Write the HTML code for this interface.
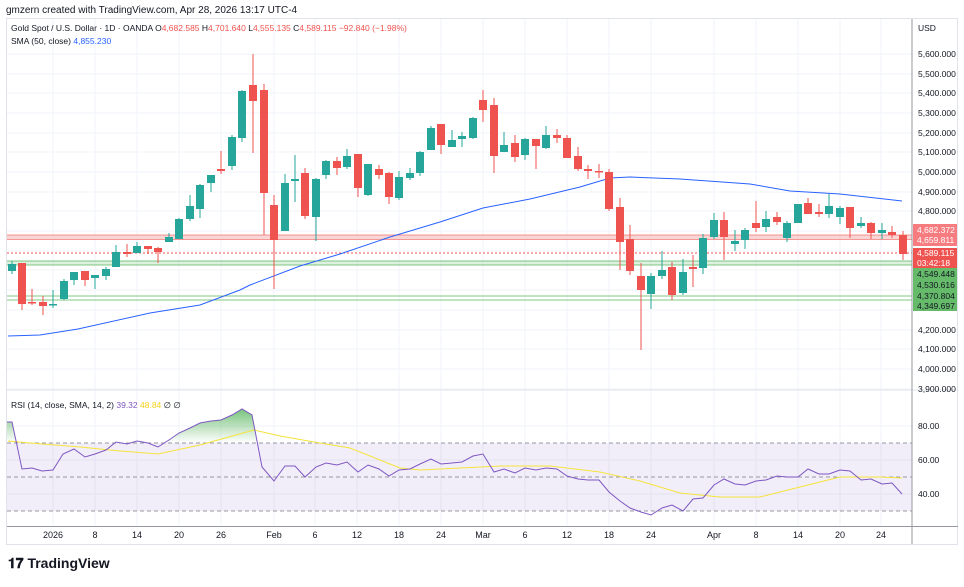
<!DOCTYPE html><html><head><meta charset="utf-8"><style>
body{margin:0;background:#fff;width:964px;height:582px;overflow:hidden;font-family:"Liberation Sans",sans-serif}
svg text{font-family:"Liberation Sans",sans-serif}
</style></head><body>
<svg width="964" height="582" xmlns="http://www.w3.org/2000/svg">
<defs><linearGradient id="g" x1="0" y1="0" x2="0" y2="1"><stop offset="0" stop-color="#4caf50" stop-opacity=".75"/><stop offset="1" stop-color="#4caf50" stop-opacity="0"/></linearGradient></defs>
<text x="6" y="13" font-size="10" fill="#131722">gmzern created with TradingView.com, Apr 28, 2026 13:17 UTC-4</text>
<rect x="6.5" y="18.5" width="951" height="526" fill="none" stroke="#e0e3eb"/>
<g stroke="#f0f3fa" stroke-width="1">
<path d="M53 19V526M95 19V526M137 19V526M179 19V526M221 19V526M274 19V526M315 19V526M357 19V526M399 19V526M441 19V526M483 19V526M525 19V526M567 19V526M609 19V526M651 19V526M714 19V526M756 19V526M798 19V526M840 19V526M881 19V526"/>
<path d="M7 54H912M7 74H912M7 93H912M7 113H912M7 133H912M7 152H912M7 172H912M7 192H912M7 211H912M7 231H912M7 251H912M7 270H912M7 290H912M7 310H912M7 330H912M7 349H912M7 369H912M7 389H912M7 426H912M7 460H912M7 494H912"/>
</g>
<!-- RSI band -->
<rect x="7" y="443" width="905" height="68" fill="#7e57c2" fill-opacity=".1"/>
<g stroke="#9598a1" stroke-dasharray="4,3"><path d="M7 443H912M7 477H912M7 511H912"/></g>
<!-- horizontal levels -->
<rect x="7" y="235" width="905" height="4" fill="#f7c5c5" opacity=".7"/>
<path d="M7 235H912M7 239.5H912" stroke="#ef5350" stroke-opacity=".6"/>
<path d="M7 253H912" stroke="#ef5350" stroke-dasharray="2,2"/>
<rect x="7" y="261" width="905" height="4" fill="#c8e6c9" opacity=".6"/>
<path d="M7 261H912M7 265H912M7 296H912M7 300H912" stroke="#4caf50" stroke-opacity=".7"/>
<!-- SMA -->
<polyline fill="none" stroke="#2962ff" stroke-width="1" points="8,336 40,335 78,329 150,313 200,305 240,290 250,285 300,266 340,254 390,237 440,222 483,208 530,199 580,187 610,178 630,177 680,179 750,184 790,191 840,194 902,201"/>
<g id="c"></g>
<!-- RSI -->
<path fill="url(#g)" d="M7,443 L7,422 L12,422 L16,443 Z M169,443 L169,440 L179,433 L190,428 L200,423 L211,421 L221,420 L232,415 L242,409 L252,415 L257,443 Z"/>
<polyline fill="none" stroke="#f5e33b" stroke-width="1" points="8,441 30,443 80,447 120,451 158,454 200,445 254,430 280,436 320,443 350,448 400,468 420,470 480,467 500,466 550,466 600,472 640,481 680,493 720,497 760,497 800,487 840,477 880,477 902,478"/>
<polyline fill="none" stroke="#7e57c2" stroke-width="1" points="7,422 12,422 22,469 32,468 42,471 53,470 63,454 74,449 85,457 95,454 106,450 116,442 127,444 137,441 148,443 158,447 169,440 179,433 190,428 200,423 211,421 221,420 232,415 242,409 252,415 262,467 274,481 285,466 295,466 305,477 316,467 326,463 337,465 347,462 358,472 368,465 379,469 389,476 399,470 410,469 420,464 431,459 441,464 452,463 462,462 473,456 483,454 494,472 504,469 515,473 525,468 536,470 546,468 557,469 567,476 578,479 588,480 599,480 609,492 620,501 630,508 641,512 651,515 662,508 672,505 683,511 693,499 703,498 714,485 724,479 735,484 745,485 756,481 766,480 777,476 787,477 798,477 808,469 819,474 829,474 840,470 850,471 861,480 871,479 882,484 892,483 902,494"/>
<!-- separators & axes -->
<path d="M7 390H958" stroke="#e0e3eb"/>
<path d="M912 19V544M7 526.5H958" stroke="#9598a1"/>
<g font-size="8.5" fill="#131722">
<text x="918" y="31">USD</text>
<text x="918" y="57">5,600.000</text><text x="918" y="77">5,500.000</text><text x="918" y="96">5,400.000</text><text x="918" y="116">5,300.000</text><text x="918" y="136">5,200.000</text><text x="918" y="155">5,100.000</text><text x="918" y="175">5,000.000</text><text x="918" y="195">4,900.000</text><text x="918" y="214">4,800.000</text><text x="918" y="333">4,200.000</text><text x="918" y="352">4,100.000</text><text x="918" y="372">4,000.000</text><text x="918" y="392">3,900.000</text>
<text x="918" y="429">80.00</text><text x="918" y="463">60.00</text><text x="918" y="497">40.00</text>
</g>
<rect x="913" y="224" width="44" height="22" fill="#f77c80"/>
<text x="917" y="233" font-size="8.5" fill="#fff">4,682.372</text><text x="917" y="243" font-size="8.5" fill="#fff">4,659.811</text>
<rect x="913" y="248" width="44" height="20" fill="#ef5350"/>
<text x="917" y="256" font-size="8.5" fill="#fff">4,589.115</text><text x="917" y="266" font-size="8.5" fill="#fff">03:42:18</text>
<rect x="913" y="268" width="44" height="22" fill="#66bb6a"/>
<text x="917" y="277" font-size="8.5" fill="#131722">4,549.448</text><text x="917" y="288" font-size="8.5" fill="#131722">4,530.616</text>
<rect x="913" y="290" width="44" height="21" fill="#66bb6a"/>
<text x="917" y="299" font-size="8.5" fill="#131722">4,370.804</text><text x="917" y="309" font-size="8.5" fill="#131722">4,349.697</text>
<g font-size="9" fill="#131722" text-anchor="middle">
<text x="53" y="538">2026</text><text x="95" y="538">8</text><text x="137" y="538">14</text><text x="179" y="538">20</text><text x="221" y="538">26</text><text x="274" y="538">Feb</text><text x="315" y="538">6</text><text x="357" y="538">12</text><text x="399" y="538">18</text><text x="441" y="538">24</text><text x="483" y="538">Mar</text><text x="525" y="538">6</text><text x="567" y="538">12</text><text x="609" y="538">18</text><text x="651" y="538">24</text><text x="714" y="538">Apr</text><text x="756" y="538">8</text><text x="798" y="538">14</text><text x="840" y="538">20</text><text x="881" y="538">24</text>
</g>
<text x="11" y="31" font-size="8.5" fill="#131722">Gold Spot / U.S. Dollar · 1D · OANDA <tspan fill="#131722">O</tspan><tspan fill="#ef5350">4,682.585 </tspan>H<tspan fill="#ef5350">4,701.640 </tspan>L<tspan fill="#ef5350">4,555.135 </tspan>C<tspan fill="#ef5350">4,589.115 −92.840 (−1.98%)</tspan></text>
<text x="11" y="44" font-size="8.5" fill="#131722">SMA (50, close) <tspan fill="#2962ff">4,855.230</tspan></text>
<text x="11" y="408" font-size="8.5" fill="#131722">RSI (14, close, SMA, 14, 2) <tspan fill="#7e57c2">39.32</tspan> <tspan fill="#f5d21b">48.84</tspan> ∅ ∅</text>
<text x="8" y="568" font-size="14" font-weight="bold" fill="#131722">𝟏𝟕 TradingView</text>
</svg>
<script>
var d=[[12,1,264,271,261,274],[22,0,263,304,263,310],[32,0,302,303,289,305],[43,0,302,306,296,315],[53,1,304,305,290,308],[64,1,281,299,279,300],[74,1,272,280,272,285],[85,0,271,280,271,286],[95,1,275,278,275,289],[106,1,269,276,267,280],[116,1,252,267,245,267],[127,0,252,254,244,257],[137,1,246,253,242,253],[148,0,246,249,246,254],[158,0,248,252,247,263],[169,1,237,242,233,242],[179,1,219,239,218,239],[190,1,206,219,195,221],[200,1,185,209,184,218],[211,1,175,183,175,192],[221,0,169,171,151,174],[232,1,137,166,135,170],[242,1,91,138,90,142],[253,0,85,101,54,153],[264,0,90,193,84,235],[274,0,205,240,195,289],[285,1,183,231,174,231],[295,1,179,181,155,202],[305,0,173,216,168,219],[316,1,179,217,178,241],[326,1,161,175,160,179],[337,0,161,168,157,175],[347,1,156,167,149,169],[358,0,154,188,154,197],[368,1,164,195,164,196],[379,0,169,175,165,179],[389,0,173,197,172,204],[399,1,177,198,171,200],[410,1,173,178,168,180],[420,1,152,173,151,176],[431,1,128,150,126,150],[441,0,124,145,124,154],[452,1,140,147,130,147],[462,1,136,139,132,147],[473,1,118,138,117,139],[483,0,100,110,90,122],[494,0,105,156,98,173],[504,1,145,152,132,152],[515,0,143,157,135,162],[525,1,139,155,138,160],[536,0,139,146,139,169],[546,1,135,148,126,149],[557,0,135,138,129,143],[567,0,138,158,135,158],[578,0,156,169,147,171],[588,0,169,171,165,179],[599,0,171,172,164,178],[609,0,172,209,169,211],[620,0,207,242,198,270],[630,0,239,271,225,275],[641,0,276,290,263,350],[651,1,276,294,273,309],[662,1,270,276,251,279],[672,0,267,295,262,300],[683,1,272,293,259,295],[693,0,267,269,255,287],[703,1,238,268,234,274],[714,1,220,237,213,239],[724,0,220,237,212,260],[735,1,241,244,230,251],[745,1,230,240,228,249],[756,0,223,228,201,232],[766,1,219,227,211,232],[777,0,217,222,212,225],[787,1,223,238,221,242],[798,1,204,223,204,223],[808,0,203,214,198,214],[819,0,212,214,204,217],[829,1,206,214,194,218],[840,1,208,217,206,224],[850,0,207,228,207,238],[861,1,223,226,217,228],[871,0,223,233,222,239],[882,1,230,233,223,239],[892,0,232,235,226,238],[903,0,235,254,231,260]];
var s='';d.forEach(function(c){var col=c[1]?'#26a69a':'#ef5350';s+='<line x1="'+c[0]+'" x2="'+c[0]+'" y1="'+c[4]+'" y2="'+c[5]+'" stroke="'+col+'"/><rect x="'+(c[0]-4)+'" y="'+c[2]+'" width="8" height="'+Math.max(1.5,c[3]-c[2])+'" fill="'+col+'"/>';});
document.getElementById('c').innerHTML=s;
</script>
</body></html>
